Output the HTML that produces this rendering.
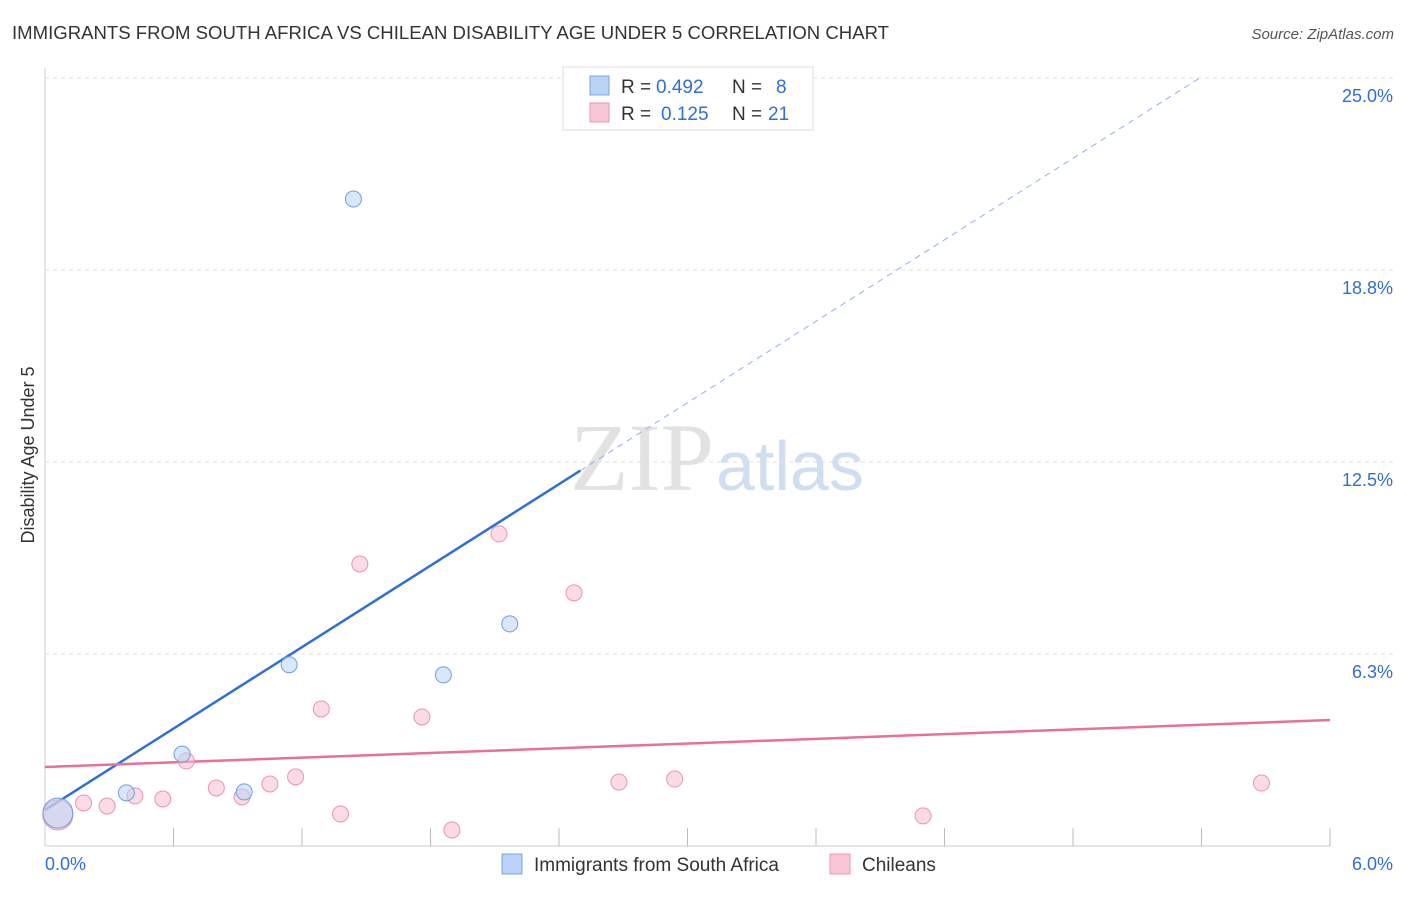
<!DOCTYPE html>
<html><head><meta charset="utf-8"><style>
body{margin:0;background:#fff;font-family:"Liberation Sans",sans-serif;}
svg text{font-family:"Liberation Sans",sans-serif;}
</style></head><body>
<svg id="chart" width="1406" height="892" viewBox="0 0 1406 892">
<text x="12" y="39" font-size="18" fill="#333" textLength="877" lengthAdjust="spacingAndGlyphs">IMMIGRANTS FROM SOUTH AFRICA VS CHILEAN DISABILITY AGE UNDER 5 CORRELATION CHART</text>
<text x="1394" y="39" font-size="15" fill="#555" text-anchor="end" font-style="italic">Source: ZipAtlas.com</text>
<text x="0" y="0" transform="translate(34,455) rotate(-90)" font-size="18" fill="#333" text-anchor="middle">Disability Age Under 5</text>
<text x="714" y="490" font-size="96" fill="#e2e2e2" text-anchor="end" style="font-family:'Liberation Serif',serif">ZIP</text>
<text x="716" y="490" font-size="70" fill="#d0def2">atlas</text>
<g id="grid"></g><g id="axes"></g><g id="lines"></g><g id="points"></g>
<g>
<rect x="563" y="67" width="250" height="63" fill="#fff" stroke="#ddd"/>
<rect x="590" y="76" width="19" height="19" fill="#b8d3f5" stroke="#7aa6e0"/>
<text x="621" y="93" font-size="19" fill="#333">R =</text>
<text x="656" y="93" font-size="19" fill="#2f6fd6">0.492</text>
<text x="732" y="93" font-size="19" fill="#333">N =</text>
<text x="776" y="93" font-size="19" fill="#2f6fd6">8</text>
<rect x="590" y="103" width="19" height="19" fill="#f9c6d6" stroke="#ea94b1"/>
<text x="621" y="120" font-size="19" fill="#333">R =</text>
<text x="661" y="120" font-size="19" fill="#2f6fd6">0.125</text>
<text x="732" y="120" font-size="19" fill="#333">N =</text>
<text x="768" y="120" font-size="19" fill="#2f6fd6">21</text>
</g>
<g>
<rect x="502" y="854" width="20" height="20" fill="#b8d3f5" stroke="#7aa6e0"/>
<text x="534" y="871" font-size="19" fill="#333">Immigrants from South Africa</text>
<rect x="830" y="854" width="20" height="20" fill="#f9c6d6" stroke="#ea94b1"/>
<text x="862" y="871" font-size="19" fill="#333">Chileans</text>
</g>
</svg>
<script>
const yTicks=[6.25,12.5,18.75,25];
const yTickLabels=["6.3%","12.5%","18.8%","25.0%"];
const xTicks=[0.6,1.2,1.8,2.4,3.0,3.6,4.2,4.8,5.4,6.0];
const blueX=[0.06,0.38,0.64,0.93,1.14,1.44,1.86,2.17];
const blueY=[1.07,1.73,2.99,1.76,5.9,21.06,5.57,7.23];
const blueR=[15,8,8,8,8,8,8,8];
const pinkX=[0.06,0.18,0.29,0.42,0.55,0.66,0.80,0.92,1.05,1.17,1.29,1.38,1.47,1.76,1.90,2.12,2.47,2.68,2.94,4.10,5.68];
const pinkY=[1.01,1.40,1.30,1.63,1.53,2.77,1.89,1.60,2.02,2.25,4.46,1.04,9.18,4.20,0.52,10.16,8.24,2.08,2.18,0.98,2.05];
const blueFit=[1.17,4.42]; // intercept, slope
const pinkFit=[2.57,0.255];
const X=v=>45+v/6*1285, Y=v=>846-v/6.25*192;
const NS="http://www.w3.org/2000/svg";
function mk(p,t,a){const e=document.createElementNS(NS,t);for(const k in a)e.setAttribute(k,a[k]);document.getElementById(p).appendChild(e);return e;}
yTicks.forEach((t,i)=>{
 const l=mk('grid','line',{x1:45,x2:1395,y1:Y(t),y2:Y(t),stroke:'#ddd','stroke-dasharray':'4,4'});
 
 
 const tx=mk('axes','text',{x:1393,y:Y(t)+24,'font-size':18,fill:'#2f6fd6','text-anchor':'end'});tx.textContent=yTickLabels[i];
 
 
});
const ax=mk('axes','line',{x1:45,x2:45,y1:68,y2:846,stroke:'#ccc'});


const bx=mk('axes','line',{x1:45,x2:1330,y1:846,y2:846,stroke:'#ccc'});


xTicks.forEach(t=>{const l=mk('axes','line',{x1:X(t),x2:X(t),y1:828,y2:846,stroke:'#bbb'});
 
 });
let t0=mk('axes','text',{x:45,y:870,'font-size':18,fill:'#2f6fd6'});t0.textContent="0.0%";


let t1=mk('axes','text',{x:1393,y:870,'font-size':18,fill:'#2f6fd6','text-anchor':'end'});t1.textContent="6.0%";


const bEnd=2.5, bDash=5.39;
let l1=mk('lines','line',{x1:X(0),y1:Y(blueFit[0]),x2:X(bEnd),y2:Y(blueFit[0]+blueFit[1]*bEnd),stroke:'#2f6fd6','stroke-width':2.5});


let l2=mk('lines','line',{x1:X(bEnd),y1:Y(blueFit[0]+blueFit[1]*bEnd),x2:X(bDash),y2:Y(blueFit[0]+blueFit[1]*bDash),stroke:'#8fb2e6','stroke-width':1,'stroke-dasharray':'6,5'});


let l3=mk('lines','line',{x1:X(0),y1:Y(pinkFit[0]),x2:X(6),y2:Y(pinkFit[0]+pinkFit[1]*6),stroke:'#e8709a','stroke-width':2.5});


pinkX.forEach((v,i)=>{const c=mk('points','circle',{cx:X(v),cy:Y(pinkY[i]),r:i==0?15:8,fill:'rgba(249,190,210,0.55)',stroke:'#ea94b1','stroke-width':1});
 
 });
blueX.forEach((v,i)=>{const c=mk('points','circle',{cx:X(v),cy:Y(blueY[i]),r:blueR[i],fill:'rgba(184,211,245,0.55)',stroke:'#6f9fdc','stroke-width':1});
 
 });
</script>
</body></html>
